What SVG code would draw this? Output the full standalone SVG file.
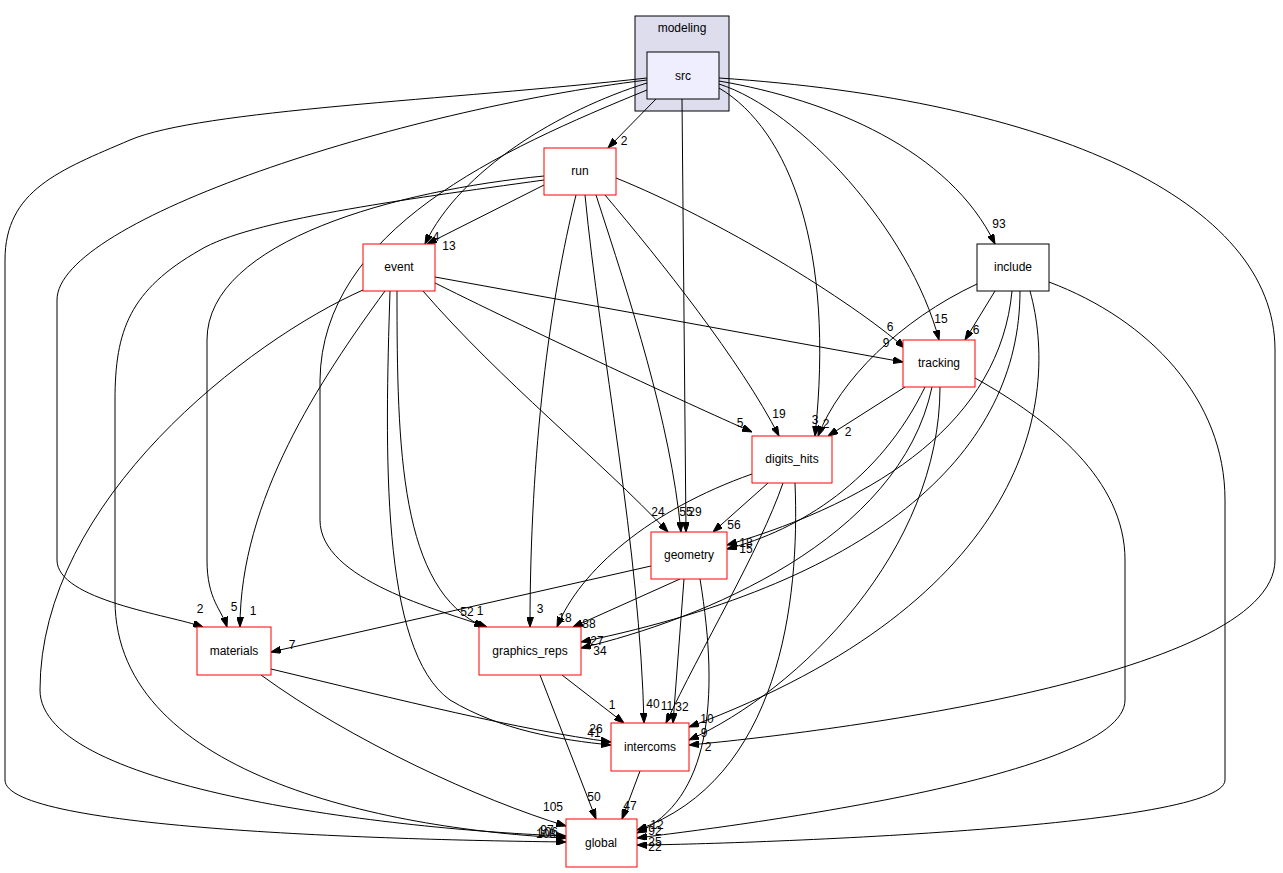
<svg xmlns="http://www.w3.org/2000/svg" width="1283" height="873" viewBox="0 0 1283 873">
<style>
.n rect{fill:#fff;stroke:#ff0000;stroke-width:1}
.n text,.c text{font-family:"Liberation Sans",Arial,sans-serif;font-size:12px;fill:#000}
.n text{text-anchor:middle}
.c path{fill:none;stroke:#000;stroke-width:1;marker-end:url(#ah)}
.c text{text-anchor:middle;font-size:12px}
</style>
<defs>
<marker id="ah" viewBox="0 0 10 7" refX="10" refY="3.5" markerWidth="10" markerHeight="7" markerUnits="userSpaceOnUse" orient="auto">
<path d="M0,0 L10,3.5 L0,7 z" fill="#000" stroke="#000"/>
</marker>
</defs>
<rect width="1283" height="873" fill="#fff"/>
<g id="cluster_modeling">
<rect x="635" y="16" width="94" height="95" fill="#ddddee" stroke="#000"/>
<text x="682" y="32" text-anchor="middle" style="font-family:'Liberation Sans',Arial,sans-serif;font-size:12px">modeling</text>
</g>
<g id="connectors" class="c">
<path d="M656,99 L608,148"/><text x="624" y="145">2</text>
<path d="M647,83 C560,110 460,170 425,244"/><text x="436" y="241">4</text>
<path d="M682,99 L686,532"/><text x="695" y="516">29</text>
<path d="M719,88 C790,130 835,250 815,436"/><text x="815" y="424">3</text>
<path d="M719,84 C800,110 910,230 939,340"/><text x="941" y="323">15</text>
<path d="M719,81 C830,100 950,150 995,244"/><text x="999" y="228">93</text>
<path d="M719,78 C1050,100 1275,200 1275,350 L1275,560 C1275,680 800,735 689,745"/><text x="708" y="751">2</text>
<path d="M647,78 C450,100 200,110 130,140 C60,170 5,190 5,260 L5,780 C5,830 400,840 566,842"/>
<path d="M647,80 C400,110 57,220 57,300 L57,560 C57,600 170,615 203,627"/><text x="200" y="613">2</text>
<path d="M647,90 C500,150 322,230 320,380 L320,520 C320,580 440,610 487,627"/><text x="467" y="616">52</text>
<path d="M544,185 L427,244"/><text x="449" y="250">13</text>
<path d="M544,176 C400,190 207,240 207,340 L207,560 C207,600 222,610 227,627"/><text x="234" y="611">5</text>
<path d="M544,180 C400,200 250,220 200,250 C130,290 115,330 115,400 L115,600 C115,780 400,830 566,838"/>
<path d="M576,195 C550,300 530,450 530,627"/><text x="540" y="613">3</text>
<path d="M585,195 C600,350 640,550 644,723"/><text x="653" y="708">40</text>
<path d="M596,195 C630,300 670,420 681,532"/><text x="686" y="516">55</text>
<path d="M605,195 C660,260 740,360 779,436"/><text x="779" y="418">19</text>
<path d="M616,178 C720,220 850,300 905,348"/><text x="890" y="331">6</text>
<path d="M385,291 C320,380 240,500 240,627"/><text x="253" y="615">1</text>
<path d="M363,290 C250,340 40,500 40,690 C40,790 400,830 566,836"/>
<path d="M390,291 C385,450 380,650 450,700 C500,730 560,740 611,745"/><text x="596" y="733">26</text>
<path d="M397,291 C397,450 400,590 484,627"/><text x="480" y="615">1</text>
<path d="M435,277 L903,362"/><text x="886" y="347">9</text>
<path d="M435,283 C550,340 680,400 752,432"/><text x="740" y="427">5</text>
<path d="M423,291 C500,380 600,460 668,532"/><text x="658" y="516">24</text>
<path d="M995,291 L965,340"/><text x="976" y="334">6</text>
<path d="M977,284 C900,320 840,380 818,436"/><text x="826" y="428">2</text>
<path d="M1012,291 C1000,420 880,500 727,545"/><text x="746" y="547">18</text>
<path d="M1020,291 C1020,450 880,580 581,642"/><text x="597" y="645">27</text>
<path d="M1030,291 C1060,400 1030,600 689,727"/><text x="707" y="723">10</text>
<path d="M1049,282 C1150,320 1225,400 1225,500 L1225,780 C1225,830 700,845 637,845"/><text x="655" y="851">22</text>
<path d="M905,387 L828,436"/><text x="848" y="436">2</text>
<path d="M925,387 C880,480 800,530 727,549"/><text x="746" y="553">15</text>
<path d="M932,387 C900,540 700,620 581,648"/><text x="600" y="655">34</text>
<path d="M940,387 C940,550 800,690 689,740"/><text x="704" y="737">9</text>
<path d="M975,378 C1050,420 1125,480 1125,560 L1125,700 C1125,780 700,830 637,838"/><text x="655" y="846">25</text>
<path d="M752,474 C650,510 580,570 557,627"/><text x="565" y="622">18</text>
<path d="M768,483 L713,532"/><text x="734" y="529">56</text>
<path d="M783,483 C760,550 700,650 666,723"/><text x="667" y="710">11</text>
<path d="M795,483 C800,600 780,780 637,830"/><text x="657" y="829">12</text>
<path d="M651,566 L271,652"/><text x="292" y="649">7</text>
<path d="M680,579 L573,627"/><text x="589" y="628">88</text>
<path d="M684,579 L673,723"/><text x="682" y="711">32</text>
<path d="M700,579 C720,700 710,800 637,833"/><text x="655" y="835">92</text>
<path d="M562,675 L624,723"/><text x="612" y="709">1</text>
<path d="M540,675 L596,819"/><text x="594" y="801">50</text>
<path d="M271,669 C400,700 520,730 611,742"/><text x="594" y="737">41</text>
<path d="M261,675 C350,740 480,800 566,826"/><text x="553" y="811">105</text>
<path d="M640,771 L622,819"/><text x="630" y="810">47</text>
<text x="547" y="834">97</text>
<text x="546" y="838">108</text>
<text x="548" y="836">106</text>
</g>
<g id="src" class="n"><rect x="647" y="52" width="72" height="47" style="fill:#eeeeff;stroke:#000"/><text x="683" y="80">src</text></g>
<g id="run" class="n"><rect x="544" y="148" width="72" height="47"/><text x="580" y="175">run</text></g>
<g id="event" class="n"><rect x="363" y="244" width="72" height="47"/><text x="399" y="271">event</text></g>
<g id="include" class="n"><rect x="977" y="244" width="72" height="47" style="stroke:#000"/><text x="1013" y="271">include</text></g>
<g id="tracking" class="n"><rect x="903" y="340" width="72" height="47"/><text x="939" y="367">tracking</text></g>
<g id="digits_hits" class="n"><rect x="752" y="436" width="80" height="47"/><text x="792" y="463">digits_hits</text></g>
<g id="geometry" class="n"><rect x="651" y="532" width="76" height="47"/><text x="689" y="559">geometry</text></g>
<g id="graphics_reps" class="n"><rect x="479" y="627" width="102" height="48"/><text x="530" y="655">graphics_reps</text></g>
<g id="materials" class="n"><rect x="197" y="627" width="74" height="48"/><text x="234" y="655">materials</text></g>
<g id="intercoms" class="n"><rect x="611" y="723" width="78" height="48"/><text x="650" y="751">intercoms</text></g>
<g id="global" class="n"><rect x="566" y="819" width="71" height="48"/><text x="601" y="847">global</text></g>
</svg>
